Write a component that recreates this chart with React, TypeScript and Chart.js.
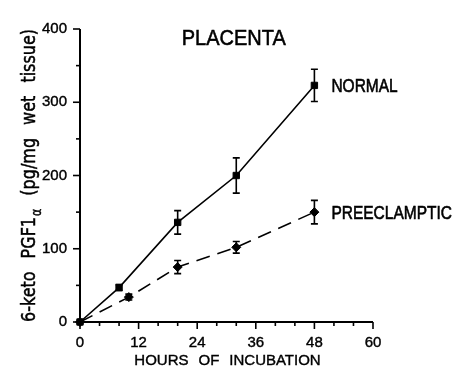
import React, { useEffect, useRef } from "react";
import { Chart, registerables } from "chart.js";

Chart.register(...registerables);

// ---- data ----
const normalHours = [0, 8, 20, 32, 48];
const normalValues = [0, 47, 136, 200, 323];
const normalErrors = [0, 4, 16, 24, 22];

const preHours = [0, 10, 20, 32, 48];
const preValues = [0, 34, 75, 102, 150];
const preErrors = [0, 4, 9, 8, 16];

const yLabelTicks = [0, 100, 200, 300, 400];
const xLabelTicks = [0, 12, 24, 36, 48, 60];
const seriesLabels = ["NORMAL", "PREECLAMPTIC"];
const chartTitle = "PLACENTA";
const xTitleWords = ["HOURS", "OF", "INCUBATION"];
const yTitleParts = [
  { t: "6-keto", sub: "" },
  { t: "PGF1", sub: "α" },
  { t: "(pg/mg", sub: "" },
  { t: "wet", sub: "" },
  { t: "tissue)", sub: "" },
];

const FAMILY = "'Liberation Sans', Arial, Helvetica, sans-serif";
const YFAMILY = "'DejaVu Sans', 'Liberation Sans', sans-serif";
const font = (px: number, fam: string = FAMILY) => `${px}px ${fam}`;

function drawStretched(ctx: CanvasRenderingContext2D, text: string, x: number, y: number, px: number, sy: number, align: CanvasTextAlign) {
  ctx.save();
  ctx.translate(x, y);
  ctx.scale(1, sy);
  ctx.font = font(px);
  ctx.textAlign = align;
  ctx.textBaseline = "alphabetic";
  ctx.lineWidth = 0.5;
  ctx.fillText(text, 0, 0);
  ctx.strokeText(text, 0, 0);
  ctx.restore();
}

const decor = {
  id: "decor",
  afterDraw(chart: any) {
    const ctx: CanvasRenderingContext2D = chart.ctx;
    const { left, right, top, bottom } = chart.chartArea;
    const xs = chart.scales.x;
    const ys = chart.scales.y;
    ctx.save();
    ctx.strokeStyle = "#000";
    ctx.fillStyle = "#000";
    ctx.setLineDash([]);

    // error bars
    const errs = [normalErrors, preErrors];
    chart.data.datasets.forEach((ds: any, di: number) => {
      const meta = chart.getDatasetMeta(di);
      meta.data.forEach((pt: any, i: number) => {
        const e = errs[di][i];
        if (!e) return;
        const v = ds.data[i].y;
        const y1 = ys.getPixelForValue(v + e);
        const y2 = ys.getPixelForValue(v - e);
        ctx.lineWidth = 1.6;
        ctx.beginPath();
        ctx.moveTo(pt.x, y1);
        ctx.lineTo(pt.x, y2);
        ctx.moveTo(pt.x - 3.5, y1);
        ctx.lineTo(pt.x + 3.5, y1);
        ctx.moveTo(pt.x - 3.5, y2);
        ctx.lineTo(pt.x + 3.5, y2);
        ctx.stroke();
      });
    });

    // axes
    ctx.lineWidth = 2;
    ctx.beginPath();
    ctx.moveTo(left, top);
    ctx.lineTo(left, bottom);
    ctx.lineTo(right, bottom);
    ctx.stroke();

    ctx.lineWidth = 1.6;
    ys.ticks.forEach((t: any) => {
      const p = ys.getPixelForValue(t.value);
      const len = yLabelTicks.includes(t.value) ? 7 : 4;
      ctx.beginPath();
      ctx.moveTo(left - len, p);
      ctx.lineTo(left, p);
      ctx.stroke();
    });
    xs.ticks.forEach((t: any) => {
      const p = xs.getPixelForValue(t.value);
      const len = xLabelTicks.includes(t.value) ? 7 : 4;
      ctx.beginPath();
      ctx.moveTo(p, bottom);
      ctx.lineTo(p, bottom + len);
      ctx.stroke();
    });

    // title
    drawStretched(ctx, chartTitle, left + (right - left) * 0.525, top + 16, 20, 1.12, "center");

    // series labels next to last points
    const lpx = 15.5, lsy = 1.2;
    const cap = 0.716 * lpx * lsy;
    chart.data.datasets.forEach((_ds: any, di: number) => {
      const meta = chart.getDatasetMeta(di);
      const last = meta.data[meta.data.length - 1];
      drawStretched(ctx, seriesLabels[di], last.x + 17, last.y + cap / 2, lpx, lsy, "left");
    });

    // x title
    ctx.font = font(15);
    const gapX = 10;
    const widths = xTitleWords.map((w) => ctx.measureText(w).width);
    const totalX = widths.reduce((a, b) => a + b, 0) + gapX * (xTitleWords.length - 1);
    let cx = (left + right) / 2 - totalX / 2 + 1;
    ctx.textAlign = "left";
    ctx.textBaseline = "alphabetic";
    ctx.lineWidth = 0.4;
    xTitleWords.forEach((w, i) => {
      ctx.fillText(w, cx, bottom + 43);
      ctx.strokeText(w, cx, bottom + 43);
      cx += widths[i] + gapX;
    });

    // y title (rotated)
    const ypx = 16, ysy = 1.25, subPx = 11;
    ctx.save();
    ctx.translate(left - 45, (top + bottom) / 2);
    ctx.rotate(-Math.PI / 2);
    ctx.scale(1, ysy);
    ctx.lineWidth = 0.4;
    const partWidths = yTitleParts.map((p) => {
      ctx.font = font(ypx, YFAMILY);
      let w = ctx.measureText(p.t).width;
      if (p.sub) {
        ctx.font = font(subPx, YFAMILY);
        w += ctx.measureText(p.sub).width + 1;
      }
      return w;
    });
    const span = bottom - top;
    const sumW = partWidths.reduce((a, b) => a + b, 0);
    const gapY = (span - sumW) / (yTitleParts.length - 1);
    let px = -span / 2;
    ctx.textAlign = "left";
    ctx.textBaseline = "alphabetic";
    yTitleParts.forEach((p, i) => {
      ctx.font = font(ypx, YFAMILY);
      ctx.fillText(p.t, px, 0);
      ctx.strokeText(p.t, px, 0);
      if (p.sub) {
        const w0 = ctx.measureText(p.t).width;
        ctx.font = font(subPx, YFAMILY);
        ctx.fillText(p.sub, px + w0 + 1, 4.5);
        ctx.strokeText(p.sub, px + w0 + 1, 4.5);
      }
      px += partWidths[i] + gapY;
    });
    ctx.restore();

    ctx.restore();
  },
};

export default function App() {
  const ref = useRef<HTMLCanvasElement>(null);
  useEffect(() => {
    const chart = new Chart(ref.current as HTMLCanvasElement, {
      type: "scatter",
      data: {
        datasets: [
          {
            label: seriesLabels[0],
            data: normalHours.map((h, i) => ({ x: h, y: normalValues[i] })),
            showLine: true,
            borderColor: "#000",
            backgroundColor: "#000",
            borderWidth: 1.6,
            pointStyle: "rect",
            pointRadius: 4.5,
            pointBorderWidth: 1,
            pointBackgroundColor: "#000",
            pointBorderColor: "#000",
            tension: 0,
            clip: false as any,
          },
          {
            label: seriesLabels[1],
            data: preHours.map((h, i) => ({ x: h, y: preValues[i] })),
            showLine: true,
            borderColor: "#000",
            backgroundColor: "#000",
            borderWidth: 1.6,
            borderDash: [14, 8],
            pointStyle: "rectRot",
            pointRadius: 4.5,
            pointBorderWidth: 1,
            pointBackgroundColor: "#000",
            pointBorderColor: "#000",
            tension: 0,
            clip: false as any,
          },
        ],
      },
      options: {
        responsive: false,
        animation: false,
        events: [],
        layout: { padding: { left: 0, top: 29, right: 89, bottom: 0 } },
        plugins: { legend: { display: false }, tooltip: { enabled: false }, title: { display: false } },
        scales: {
          x: {
            type: "linear",
            min: 0,
            max: 60,
            grid: { display: false, drawTicks: false },
            border: { display: false },
            ticks: {
              stepSize: 4,
              autoSkip: false,
              maxRotation: 0,
              padding: 12,
              color: "#000",
              textStrokeColor: "#000",
              textStrokeWidth: 0.4,
              font: { family: FAMILY, size: 15 },
              callback: (v: any) => (xLabelTicks.includes(Number(v)) ? String(v) : ""),
            } as any,
            afterFit: (s: any) => {
              s.height = 54;
            },
          },
          y: {
            type: "linear",
            min: 0,
            max: 400,
            grid: { display: false, drawTicks: false },
            border: { display: false },
            ticks: {
              stepSize: 50,
              autoSkip: false,
              padding: 13,
              color: "#000",
              textStrokeColor: "#000",
              textStrokeWidth: 0.4,
              font: { family: FAMILY, size: 15 },
              callback: (v: any) => (yLabelTicks.includes(Number(v)) ? String(v) : ""),
            } as any,
            afterFit: (s: any) => {
              s.width = 80;
            },
          },
        },
      },
      plugins: [decor],
    });
    return () => chart.destroy();
  }, []);
  return (
    <div style={{ position: "fixed", left: 0, top: 0, width: 462, height: 376, background: "#fff" }}>
      <canvas ref={ref} width={462} height={376} style={{ display: "block" }} />
    </div>
  );
}
